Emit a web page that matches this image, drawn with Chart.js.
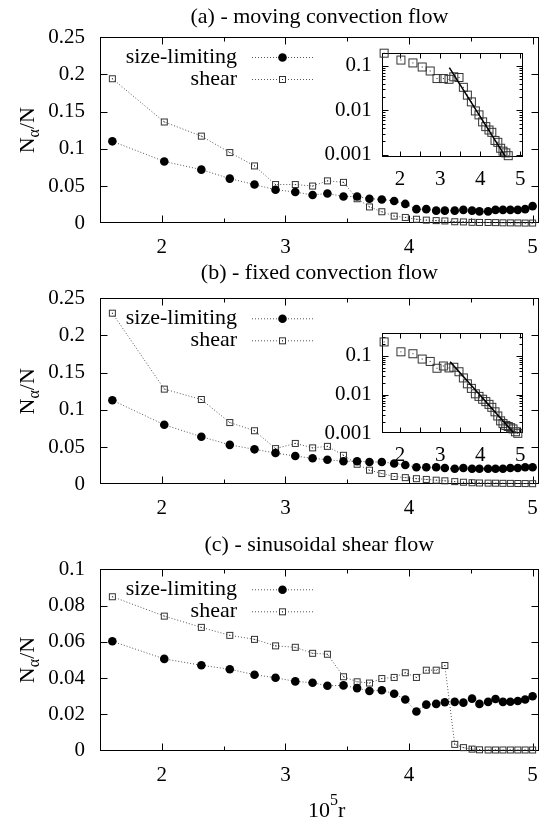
<!DOCTYPE html>
<html><head><meta charset="utf-8">
<script src="https://cdn.jsdelivr.net/npm/chart.js@4.4.1/dist/chart.umd.min.js"></script>
<style>
html,body{margin:0;padding:0;background:#fff;}
body{width:550px;height:823px;position:relative;overflow:hidden;}
canvas{position:absolute;}
</style></head><body>
<canvas id="pa" width="550" height="262" style="left:0;top:0"></canvas>
<canvas id="pb" width="550" height="270" style="left:0;top:262px"></canvas>
<canvas id="pc" width="550" height="291" style="left:0;top:532px"></canvas>
<canvas id="ia" width="220" height="160" style="left:320px;top:30px"></canvas>
<canvas id="ib" width="220" height="160" style="left:320px;top:310px"></canvas>
<script>
// ---------- data ----------
const X = [1.60, 2.02, 2.32, 2.55, 2.75, 2.92, 3.08, 3.22, 3.34, 3.47, 3.58, 3.68, 3.78, 3.88, 3.97,
           4.06, 4.14, 4.22, 4.29, 4.37, 4.44, 4.51, 4.57, 4.64, 4.70, 4.76, 4.82, 4.88, 4.94, 5.00];

const sizeA  = [0.110, 0.083, 0.072, 0.060, 0.052, 0.045, 0.042, 0.038, 0.040, 0.036, 0.036, 0.033, 0.032, 0.030, 0.026,
                0.019, 0.019, 0.017, 0.017, 0.017, 0.018, 0.017, 0.016, 0.016, 0.018, 0.018, 0.018, 0.018, 0.019, 0.023];
const shearA = [0.194, 0.136, 0.117, 0.095, 0.077, 0.052, 0.052, 0.050, 0.057, 0.055, 0.033, 0.022, 0.0155, 0.0097, 0.0079,
                0.0055, 0.0043, 0.0036, 0.0032, 0.0021, 0.0019, 0.0014, 0.0012, 0.0011, 0.00095, 0.0007, 0.0006, 0.0005, 0.0004, 0.0004];

const sizeB  = [0.113, 0.080, 0.064, 0.053, 0.047, 0.042, 0.038, 0.035, 0.033, 0.031, 0.031, 0.030, 0.030, 0.028, 0.026,
                0.023, 0.023, 0.023, 0.022, 0.021, 0.022, 0.021, 0.021, 0.021, 0.021, 0.021, 0.022, 0.022, 0.023, 0.023];
const shearB = [0.230, 0.128, 0.114, 0.083, 0.072, 0.048, 0.055, 0.049, 0.051, 0.039, 0.027, 0.019, 0.0145, 0.0105, 0.0090,
                0.0076, 0.0066, 0.0056, 0.0047, 0.0036, 0.0028, 0.0021, 0.0018, 0.0016, 0.0015, 0.0014, 0.0013, 0.0011, 0.0010, 0.0009];

const sizeC  = [0.0603, 0.0506, 0.0471, 0.0449, 0.0419, 0.0402, 0.0382, 0.0375, 0.0358, 0.0360, 0.0345, 0.0329, 0.0333, 0.0314, 0.0282,
                0.0216, 0.0254, 0.0258, 0.0267, 0.0269, 0.0265, 0.0287, 0.0258, 0.0269, 0.0285, 0.0269, 0.0270, 0.0274, 0.0282, 0.0300];
const shearC = [0.0849, 0.0742, 0.0680, 0.0636, 0.0614, 0.0578, 0.0570, 0.0537, 0.0532, 0.0408, 0.0380, 0.0373, 0.0398, 0.0404, 0.0430,
                0.0404, 0.0444, 0.0444, 0.0470, 0.0035, 0.0017, 0.0009, 0.0005, 0.0004, 0.0004, 0.0004, 0.0004, 0.0004, 0.0004, 0.0004];

// straight-line fits drawn in the log insets
const fitAX = [3.23, 4.63];
const fitAY = [0.092, 0.0009];
const fitBX = [3.25, 4.83];
const fitBY = [0.071, 0.00105];

// ticks / labels
const xTicksMain = [2, 3, 4, 5];
const xMinorMain = [2.5, 3.5, 4.5];
const yTicksAB = [0, 0.05, 0.1, 0.15, 0.2, 0.25];
const yTicksC = [0, 0.02, 0.04, 0.06, 0.08, 0.1];
const yTicksInset = [0.001, 0.01, 0.1];
const yMinorInset = [0.002,0.003,0.004,0.005,0.006,0.007,0.008,0.009,0.02,0.03,0.04,0.05,0.06,0.07,0.08,0.09,0.2,0.3];
const titles = ['(a) - moving convection flow', '(b) - fixed convection flow', '(c) - sinusoidal shear flow'];
const legendLabels = ['size-limiting', 'shear'];
const yTitle = ['N', '\u03b1', '/N'];
const xTitle = ['10', '5', 'r'];

// ---------- style ----------
const FF = '"Liberation Serif", "Times New Roman", serif';
const fmt = v => String(Number(v.toFixed(4)));

function makeSquare(n) {
  const c = document.createElement('canvas');
  c.width = n + 2; c.height = n + 2;
  const g = c.getContext('2d');
  g.strokeStyle = '#333'; g.lineWidth = 1;
  g.strokeRect(1.5, 1.5, n - 1, n - 1);
  g.fillStyle = '#222';
  g.fillRect((n + 1) / 2, (n + 1) / 2, 1, 1);
  return c;
}
const sq7 = makeSquare(7);
const sq9 = makeSquare(9);

// ---------- plugins ----------
const gnuFrame = {
  id: 'gnuFrame',
  beforeDatasetsDraw(chart, args, o) {
    const {ctx, chartArea: a, scales: {x, y}} = chart;
    ctx.save();
    ctx.strokeStyle = '#000'; ctx.lineWidth = 1;
    const L = Math.round(a.left) + 0.5, R = Math.round(a.right) - 0.5;
    const T = Math.round(a.top) + 0.5, B = Math.round(a.bottom) - 0.5;
    ctx.strokeRect(L, T, R - L, B - T);
    ctx.beginPath();
    const vx = (vals, len) => (vals || []).forEach(v => {
      const p = Math.round(x.getPixelForValue(v)) + 0.5;
      ctx.moveTo(p, B); ctx.lineTo(p, B - len); ctx.moveTo(p, T); ctx.lineTo(p, T + len);
    });
    const vy = (vals, len) => (vals || []).forEach(v => {
      const p = Math.round(y.getPixelForValue(v)) + 0.5;
      if (p < T + 1 || p > B - 1) return;
      ctx.moveTo(L, p); ctx.lineTo(L + len, p); ctx.moveTo(R, p); ctx.lineTo(R - len, p);
    });
    vx(o.xMajor, o.xMajLen); vx(o.xMinor, o.xMinLen);
    vy(o.yMajor, o.yMajLen); vy(o.yMinor, o.yMinLen);
    ctx.stroke();
    ctx.restore();
  }
};

const gnuText = {
  id: 'gnuText',
  afterDraw(chart, args, o) {
    const {ctx, chartArea: a} = chart;
    ctx.save();
    ctx.fillStyle = '#000';
    // legend: text right-aligned, then dotted sample with marker
    if (o.legend) {
      const L = o.legend;
      L.items.forEach((dsIndex, i) => {
        const ds = chart.data.datasets[dsIndex];
        const y = a.top + L.offsets[i];
        ctx.font = '22px ' + FF;
        ctx.textAlign = 'right'; ctx.textBaseline = 'alphabetic';
        ctx.fillText(ds.label, L.textRight, y + 5.5);
        ctx.strokeStyle = ds.borderColor; ctx.lineWidth = ds.borderWidth;
        ctx.setLineDash(ds.borderDash || []);
        ctx.beginPath(); ctx.moveTo(L.x0, y); ctx.lineTo(L.x1, y); ctx.stroke();
        ctx.setLineDash([]);
        const cx = (L.x0 + L.x1) / 2;
        if (ds.pointStyle === 'circle') {
          ctx.fillStyle = ds.pointBackgroundColor;
          ctx.beginPath(); ctx.arc(cx, y, ds.pointRadius, 0, Math.PI * 2); ctx.fill();
          ctx.fillStyle = '#000';
        } else {
          const im = ds.pointStyle;
          ctx.drawImage(im, cx - im.width / 2, y - im.height / 2);
        }
      });
    }
    // rotated y title N_alpha/N
    if (o.yTitle) {
      ctx.save();
      ctx.translate(o.yTitle.x, (a.top + a.bottom) / 2);
      ctx.rotate(-Math.PI / 2);
      ctx.textAlign = 'left'; ctx.textBaseline = 'alphabetic';
      const big = '22px ' + FF, small = '16px ' + FF;
      ctx.font = big; const w1 = ctx.measureText(yTitle[0]).width, w3 = ctx.measureText(yTitle[2]).width;
      ctx.font = small; const w2 = ctx.measureText(yTitle[1]).width;
      let sx = -(w1 + w2 + w3) / 2;
      const base = 7;
      ctx.font = big; ctx.fillText(yTitle[0], sx, base); sx += w1;
      ctx.font = small; ctx.fillText(yTitle[1], sx, base + 5); sx += w2;
      ctx.font = big; ctx.fillText(yTitle[2], sx, base);
      ctx.restore();
    }
    // x title 10^5 r
    if (o.xTitle) {
      ctx.textAlign = 'left'; ctx.textBaseline = 'alphabetic';
      const big = '22px ' + FF, small = '16px ' + FF;
      ctx.font = big; const w1 = ctx.measureText(xTitle[0]).width, w3 = ctx.measureText(xTitle[2]).width;
      ctx.font = small; const w2 = ctx.measureText(xTitle[1]).width;
      let sx = o.xTitle.cx - (w1 + w2 + w3) / 2;
      const base = o.xTitle.y;
      ctx.font = big; ctx.fillText(xTitle[0], sx, base); sx += w1;
      ctx.font = small; ctx.fillText(xTitle[1], sx, base - 12); sx += w2;
      ctx.font = big; ctx.fillText(xTitle[2], sx, base);
    }
    ctx.restore();
  }
};

// ---------- builders ----------
function mainChart(id, size, shear, yTicks, yMax, title, tPad, xH, extra) {
  const datasets = [
    {label: legendLabels[0], data: X.map((x, i) => ({x, y: size[i]})), showLine: true,
     borderColor: '#555', borderWidth: 1, borderDash: [1, 2], pointStyle: 'circle', pointRadius: 4.3,
     pointBackgroundColor: '#000', pointBorderWidth: 0, clip: false},
    {label: legendLabels[1], data: X.map((x, i) => ({x, y: shear[i]})), showLine: true,
     borderColor: '#555', borderWidth: 1, borderDash: [1, 2], pointStyle: sq7, pointRadius: 4,
     pointBorderWidth: 0, clip: false}
  ];
  return new Chart(document.getElementById(id), {
    type: 'scatter',
    data: {datasets},
    options: {
      responsive: false, animation: false, devicePixelRatio: 1, events: [],
      layout: {padding: {left: 0, right: 4, top: 0, bottom: 0}},
      scales: {
        x: {type: 'linear', min: 1.5, max: 5.05,
            grid: {display: false, drawTicks: false}, border: {display: false},
            ticks: {font: {family: FF, size: 21}, color: '#000', padding: 12, autoSkip: false, maxRotation: 0,
                    callback: v => fmt(v)},
            afterBuildTicks: s => { s.ticks = xTicksMain.map(v => ({value: v})); },
            afterFit: s => { s.height = xH; }},
        y: {type: 'linear', min: 0, max: yMax,
            grid: {display: false, drawTicks: false}, border: {display: false},
            ticks: {font: {family: FF, size: 21}, color: '#000', padding: 15, autoSkip: false,
                    callback: v => fmt(v)},
            afterBuildTicks: s => { s.ticks = yTicks.map(v => ({value: v})); },
            afterFit: s => { s.width = 100; }}
      },
      plugins: {
        legend: {display: false}, tooltip: {enabled: false},
        title: {display: true, text: title, fullSize: false, color: '#000',
                font: {family: FF, size: 22, weight: 'normal', lineHeight: 1},
                padding: {top: tPad[0], bottom: tPad[1]}},
        gnuFrame: {xMajor: xTicksMain, xMinor: xMinorMain, yMajor: yTicks, xMajLen: 7, xMinLen: 4, yMajLen: 7},
        gnuText: Object.assign({legend: {items: [0, 1], offsets: [20.5, 42.5], textRight: 237, x0: 252, x1: 313},
                                yTitle: {x: 27}}, extra || {})
      }
    },
    plugins: [gnuFrame, gnuText]
  });
}

function insetChart(id, shear, fx, fy, yMin, yMax, padTop, xH) {
  const datasets = [
    {label: 'fit', data: fx.map((x, i) => ({x, y: fy[i]})), showLine: true, borderColor: '#000',
     borderWidth: 1.5, pointRadius: 0, clip: false},
    {label: legendLabels[1], data: X.map((x, i) => ({x, y: shear[i] >= yMin ? shear[i] : null})),
     showLine: false, pointStyle: sq9, pointRadius: 5, pointBorderWidth: 0, clip: false}
  ];
  return new Chart(document.getElementById(id), {
    type: 'scatter',
    data: {datasets},
    options: {
      responsive: false, animation: false, devicePixelRatio: 1, events: [],
      layout: {padding: {left: 0, right: 17, top: padTop, bottom: 0}},
      scales: {
        x: {type: 'linear', min: 1.54, max: 5.07,
            grid: {display: false, drawTicks: false}, border: {display: false},
            ticks: {font: {family: FF, size: 21}, color: '#000', padding: 10, autoSkip: false, maxRotation: 0,
                    callback: v => fmt(v)},
            afterBuildTicks: s => { s.ticks = xTicksMain.map(v => ({value: v})); },
            afterFit: s => { s.height = xH; }},
        y: {type: 'logarithmic', min: yMin, max: yMax,
            grid: {display: false, drawTicks: false}, border: {display: false},
            ticks: {font: {family: FF, size: 21}, color: '#000', padding: 10, autoSkip: false,
                    callback: v => fmt(v)},
            afterBuildTicks: s => { s.ticks = yTicksInset.map(v => ({value: v})); },
            afterFit: s => { s.width = 61.7; }}
      },
      plugins: {
        legend: {display: false}, tooltip: {enabled: false}, title: {display: false},
        gnuFrame: {xMajor: xTicksMain, xMinor: xMinorMain, yMajor: yTicksInset, yMinor: yMinorInset,
                   xMajLen: 5, xMinLen: 5, yMajLen: 6, yMinLen: 3}
      }
    },
    plugins: [gnuFrame]
  });
}

mainChart('pa', sizeA, shearA, yTicksAB, 0.25, titles[0], [6.6, 8.4], 38.7);
mainChart('pb', sizeB, shearB, yTicksAB, 0.25, titles[1], [0.6, 13.7], 47.7);
mainChart('pc', sizeC, shearC, yTicksC, 0.1, titles[2], [2.3, 13], 72.3, {xTitle: {cx: 326.7, y: 284.5}});
insetChart('ia', shearA, fitAX, fitAY, 0.0009, 0.2, 21, 33.3);
insetChart('ib', shearB, fitBX, fitBY, 0.001, 0.4, 19.3, 36.7);
</script>
</body></html>
